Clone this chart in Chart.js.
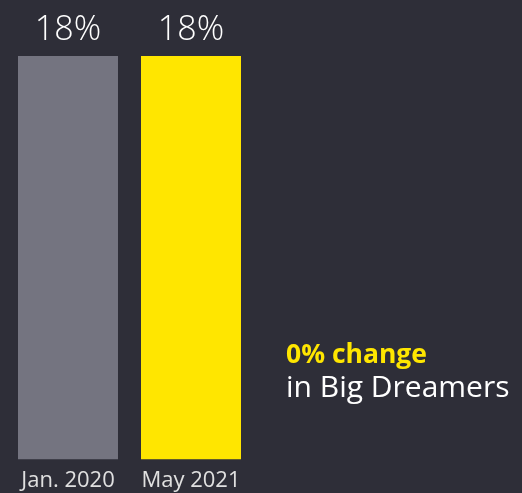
<!DOCTYPE html>
<html>
<head>
<meta charset="utf-8">
<script src="https://cdn.jsdelivr.net/npm/chart.js@4"></script>
<style>
  html, body { margin: 0; padding: 0; background: #2e2e38; }
  #wrap { width: 522px; height: 493px; position: relative; }
</style>
</head>
<body>
<div id="wrap"><canvas id="grafico"></canvas></div>
<script>
const categories = ['Jan. 2020', 'May 2021'];
const values = [18, 18];
const barColors = ['#747480', '#ffe600'];
const noteHeadline = '0% change';
const noteLine = 'in Big Dreamers';

// valores acima das barras + nota lateral
const labelsPlugin = {
  id: 'labels',
  afterDatasetsDraw(chart) {
    const c = chart.ctx;
    c.save();
    c.fillStyle = '#ffffff';
    c.font = '300 34px "Open Sans"';
    c.textAlign = 'center';
    c.textBaseline = 'alphabetic';
    chart.getDatasetMeta(0).data.forEach((bar, i) => {
      c.fillText(values[i] + '%', bar.x, bar.y - 16);
    });
    c.textAlign = 'left';
    c.fillStyle = '#ffe600';
    c.font = 'bold 26.5px "Open Sans"';
    c.fillText(noteHeadline, 286, 363);
    c.fillStyle = '#ffffff';
    c.font = '30px "Open Sans"';
    c.fillText(noteLine, 286, 397);
    c.restore();
  }
};

const ctx = document.getElementById('grafico').getContext('2d');

new Chart(ctx, {
  type: 'bar',
  data: {
    labels: categories,
    datasets: [{
      data: values,
      backgroundColor: barColors,
      barPercentage: 0.813,
      categoryPercentage: 1
    }]
  },
  options: {
    responsive: true,
    maintainAspectRatio: false,
    animation: false,
    layout: { padding: { top: 56, left: 6.5, right: 269.5, bottom: -9 } },
    plugins: {
      legend: { display: false },
      tooltip: { enabled: false }
    },
    scales: {
      y: { display: false, min: 0, max: 18 },
      x: {
        grid: { display: false, drawTicks: false },
        border: { display: false },
        ticks: { color: '#e0e0e0', font: { family: 'Open Sans', size: 22 }, padding: 8 }
      }
    }
  },
  plugins: [labelsPlugin]
});
</script>
</body>
</html>
